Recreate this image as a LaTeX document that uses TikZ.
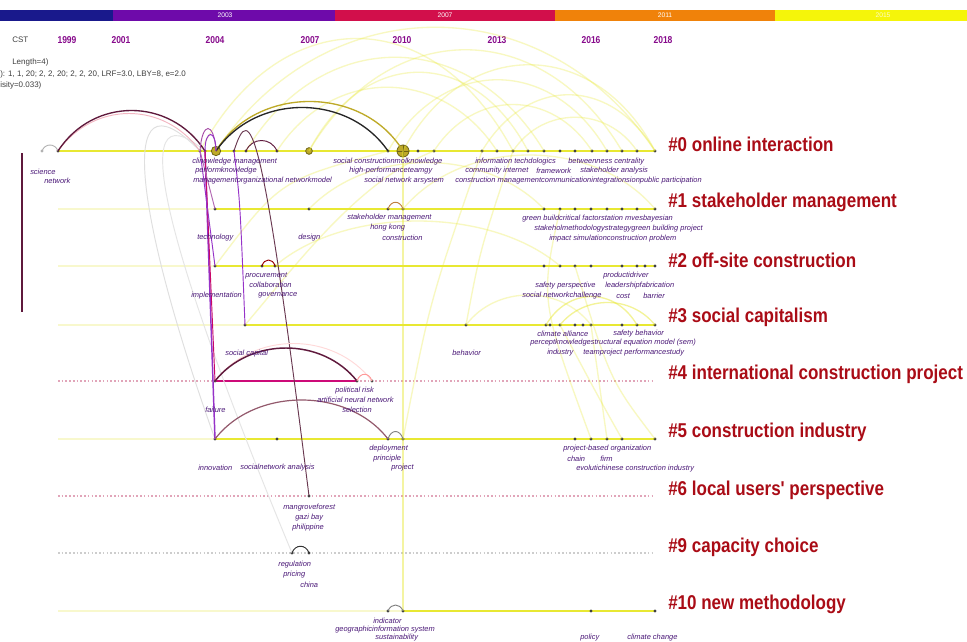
\documentclass[tikz,border=0pt]{standalone}
\usepackage{fontspec}
\setmainfont{Liberation Sans}
\newfontfamily\clfont[FakeStretch=0.85]{Liberation Sans}
\newfontfamily\yrfont[FakeStretch=0.85]{Liberation Sans}
\definecolor{ylw}{RGB}{232,232,50}
\definecolor{ylwf}{RGB}{248,248,205}
\definecolor{lblc}{RGB}{75,25,120}
\definecolor{clc}{RGB}{170,12,22}
\definecolor{yrc}{RGB}{135,10,140}
\definecolor{arcA}{RGB}{95,25,60}
\definecolor{mag}{RGB}{205,10,120}
\definecolor{vio}{RGB}{150,50,200}
\definecolor{dotp}{RGB}{225,165,185}
\definecolor{dotg}{RGB}{205,205,205}
\definecolor{barA}{RGB}{25,25,140}
\definecolor{barB}{RGB}{110,10,170}
\definecolor{barC}{RGB}{210,15,75}
\definecolor{barD}{RGB}{240,130,10}
\definecolor{barE}{RGB}{245,245,10}
\definecolor{olv}{RGB}{190,170,40}
\definecolor{olvd}{RGB}{110,100,20}
\newcommand\citearc[5][]{\draw[#1] (#2.center) .. controls +(#4,-#5) and +(-#4,-#5) .. (#3.center);}
\begin{document}
\begin{tikzpicture}[x=0.75pt,y=-0.75pt,
  tl/.style={line width=2.2pt, draw=ylw},
  tlf/.style={line width=2.2pt, draw=ylwf},
  dl/.style={line width=0.8pt, dash pattern=on 1.2pt off 1.6pt},
  nd/.style={circle, fill=black!75, inner sep=0pt, minimum size=2.5pt},
  bignd/.style={circle, fill=olv, draw=olvd, line width=0.6pt, inner sep=0pt},
  lb/.style={anchor=west, inner sep=0pt, text=lblc, font=\fontsize{5.6}{6}\selectfont\itshape},
  cl/.style={anchor=west, inner sep=0pt, text=clc, font=\clfont\bfseries\fontsize{15}{16}\selectfont},
  yr/.style={inner sep=0pt, text=yrc, font=\yrfont\bfseries\fontsize{7.5}{8}\selectfont},
  hd/.style={anchor=west, inner sep=0pt, text=black!75, font=\fontsize{6}{7}\selectfont},
  bt/.style={inner sep=0pt, text=white, font=\fontsize{5}{6}\selectfont},
  lk/.style={line width=0.7pt},
  ylk/.style={line width=1pt, draw=ylw, opacity=0.3},
]
\clip (0,0) rectangle (967,642);
\fill[white] (0,0) rectangle (967,642);

% ---- top year bar ----
\fill[barA] (0,10) rectangle (113,21);
\fill[barB] (113,10) rectangle (335,21);
\fill[barC] (335,10) rectangle (555,21);
\fill[barD] (555,10) rectangle (775,21);
\fill[barE] (775,10) rectangle (967,21);
\node[bt] (b03) at (225,15.5) {2003};
\node[bt] (b07) at (445,15.5) {2007};
\node[bt] (b11) at (665,15.5) {2011};
\node[bt, text=white!80!yellow] (b15) at (883,15.5) {2015};

% ---- year labels ----
\node[hd] (cst) at (12,40) {CST};
\node[yr] (y1999) at (67,40) {1999};
\node[yr] (y2001) at (121,40) {2001};
\node[yr] (y2004) at (215,40) {2004};
\node[yr] (y2007) at (310,40) {2007};
\node[yr] (y2010) at (402,40) {2010};
\node[yr] (y2013) at (497,40) {2013};
\node[yr] (y2016) at (591,40) {2016};
\node[yr] (y2018) at (663,40) {2018};
\node[hd] (h1) at (12,62) {Length=4)};
\node[hd] (h2) at (0,74) {): 1, 1, 20; 2, 2, 20; 2, 2, 20, LRF=3.0, LBY=8, e=2.0};
\node[hd] (h3) at (0,85) {isity=0.033)};

% left vertical line
\draw[arcA, line width=0.9pt] (22,153) -- (22,312);

% ---- timelines ----
\draw[tlf] (58,209) -- (215,209);
\draw[tlf] (58,266) -- (215,266);
\draw[tlf] (58,325) -- (245,325);
\draw[tlf] (58,439) -- (215,439);
\draw[tlf] (58,611) -- (403,611);
\draw[dl, draw=dotp] (58,381) -- (655,381);
\draw[dl, draw=dotp] (58,496) -- (655,496);
\draw[dl, draw=dotg] (58,553) -- (655,553);
\draw[tl] (58,151) -- (655,151);
\draw[tl] (215,209) -- (655,209);
\draw[tl] (215,266) -- (655,266);
\draw[tl] (245,325) -- (655,325);
\draw[tl] (215,439) -- (655,439);
\draw[tl] (403,611) -- (655,611);
\draw[mag, line width=1.6pt] (215,381) -- (357,381);

% ---- nodes ----
\foreach \x in {58,200,205,234,246,277,388,418,434,482,497,513,528,544,560,575,592,607,622,637,655}
  \node[nd] (r0n\x) at (\x,151) {};
\node[nd, fill=gray!60] (r0n42) at (42,151) {};
\foreach \x in {215,309,388,403,544,560,575,591,607,622,637,655}
  \node[nd] (r1n\x) at (\x,209) {};
\foreach \x in {215,262,275,544,560,575,591,622,637,645,655}
  \node[nd] (r2n\x) at (\x,266) {};
\foreach \x in {245,466,546,550,560,575,583,591,622,637,655}
  \node[nd] (r3n\x) at (\x,325) {};
\foreach \x in {215,357,372}
  \node[nd] (r4n\x) at (\x,381) {};
\foreach \x in {215,277,388,403,575,591,607,622,655}
  \node[nd] (r5n\x) at (\x,439) {};
\node[nd] (r6n309) at (309,496) {};
\foreach \x in {292,309}
  \node[nd] (r9n\x) at (\x,553) {};
\foreach \x in {388,403,591,655}
  \node[nd] (r10n\x) at (\x,611) {};
\node[bignd, minimum size=7pt] (r0n216) at (216,151) {};
\node[bignd, minimum size=5pt] (r0n309) at (309,151) {};
\node[bignd, minimum size=9pt] (r0n403) at (403,151) {};
\draw[olvd, line width=0.5pt] (r0n403.north) -- (r0n403.south) (r0n403.west) -- (r0n403.east);

% ---- yellow citation arcs (background) ----
\citearc[ylk]{r0n216}{r0n655}{110}{165}
\citearc[ylk]{r0n309}{r0n622}{80}{135}
\citearc[ylk]{r0n403}{r0n655}{60}{115}
\citearc[ylk]{r0n246}{r0n544}{75}{125}
\citearc[ylk]{r0n388}{r0n607}{55}{95}
\citearc[ylk]{r0n277}{r0n497}{55}{85}
\citearc[ylk]{r0n434}{r0n592}{40}{62}
\citearc[ylk]{r0n482}{r0n655}{45}{75}
\citearc[ylk]{r0n513}{r0n637}{30}{45}
\citearc[ylk]{r0n200}{r0n513}{80}{150}
\citearc[ylk]{r0n309}{r0n528}{55}{105}
\citearc[ylk]{r1n309}{r1n544}{60}{62}
\citearc[ylk]{r1n403}{r1n655}{60}{72}
\citearc[ylk]{r2n275}{r2n560}{70}{60}
\citearc[ylk, opacity=0.5]{r3n546}{r3n637}{22}{38}
\citearc[ylk, opacity=0.5]{r3n560}{r3n655}{24}{30}
\citearc[ylk]{r3n466}{r3n591}{30}{40}
\draw[ylk] (r3n245.center) .. controls (300,260) and (360,180) .. (r0n434.center);
\draw[ylk] (r2n215.center) .. controls (280,180) .. (r0n388.center);
\draw[ylk] (r5n403.center) .. controls (430,300) .. (r0n482.center);
\draw[ylk] (r3n466.center) .. controls (480,250) .. (r0n513.center);
\draw[ylk] (r3n560.center) .. controls (600,400) .. (r5n622.center);
\draw[ylk] (r2n575.center) .. controls (610,380) .. (r5n655.center);
\draw[ylk] (r3n591.center) -- (r5n607.center);
\draw[ylk] (r1n560.center) .. controls (540,300) .. (r5n591.center);
\draw[ylk, opacity=0.45] (r0n403.center) -- (r10n403.center);
\draw[gray!25, lk] (r0n200.center) .. controls (110,60) and (140,230) .. (r5n215.center);
\draw[gray!20, lk] (r0n205.center) .. controls (120,80) and (170,260) .. (r9n292.center);

% ---- dark citation links ----
\citearc[gray!60, lk]{r0n42}{r0n58}{3}{8}
\citearc[pink!70!purple, lk, opacity=0.6]{r0n58}{r0n200}{36}{50}
\citearc[arcA, line width=1pt]{r0n58}{r0n205}{35}{54}
\citearc[olv, line width=1pt]{r0n216}{r0n403}{40}{66}
\citearc[black!85, line width=1pt]{r0n216}{r0n388}{40}{58}
\citearc[violet!70, lk]{r0n200}{r0n216}{2}{30}
\citearc[vio, lk]{r0n205}{r0n216}{0}{22}
\citearc[arcA, lk]{r0n246}{r0n277}{6}{14}
\draw[vio, line width=1.1pt] (r0n205.center) -- (r5n215.center);
\draw[mag!70!purple, lk] (r0n205.center) -- (r4n215.center);
\draw[vio, lk] (r0n200.center) -- (r2n215.center);
\draw[violet!60, lk] (r0n200.center) -- (r1n215.center);
\draw[arcA!70!gray, lk] (r0n234.center) .. controls (250,100) and (262,120) .. (r6n309.center);
\draw[vio, lk] (r0n234.center) .. controls (240,200) .. (r3n245.center);
\citearc[pink!60, lk]{r4n215}{r4n372}{38}{50}
\citearc[arcA, line width=1.1pt]{r4n215}{r4n357}{35}{44}
\citearc[pink!80!red, lk]{r4n357}{r4n372}{3}{9}
\citearc[gray!70!purple, line width=0.9pt]{r5n215}{r5n388}{40}{52}
\citearc[gray, lk]{r5n388}{r5n403}{3}{10}
\citearc[red!60!black, lk]{r2n262}{r2n275}{2}{8}
\citearc[brown, lk]{r1n388}{r1n403}{3}{9}
\citearc[black!80, lk]{r9n292}{r9n309}{3}{9}
\citearc[gray, lk]{r10n388}{r10n403}{3}{8}

% ---- labels row 0 ----
\node[lb] (l0a) at (30,172) {science};
\node[lb] (l0b) at (44,181) {network};
\node[lb] (l0c) at (192,162) {clinowledge management};
\node[lb] (l0d) at (195,171) {performknowledge};
\node[lb] (l0e) at (193,181) {managementorganizational networkmodel};
\node[lb] (l0f) at (333,162) {social constructionmolknowledge};
\node[lb] (l0g) at (349,171) {high-performanceteamgy};
\node[lb] (l0h) at (364,181) {social network arsystem};
\node[lb] (l0i) at (475,162) {information techdologics};
\node[lb] (l0j) at (465,171) {community internet};
\node[lb] (l0k) at (536,171) {framework};
\node[lb] (l0l) at (455,181) {construction managementcommunicationintegrationsionpublic participation};
\node[lb] (l0m) at (568,162) {betweenness centrality};
\node[lb] (l0n) at (580,171) {stakeholder analysis};
% row 1
\node[lb] (l1a) at (197,238) {technology};
\node[lb] (l1b) at (298,238) {design};
\node[lb] (l1c) at (347,218) {stakeholder management};
\node[lb] (l1d) at (370,228) {hong kong};
\node[lb] (l1e) at (382,238) {construction};
\node[lb] (l1f) at (522,219) {green buildcritical factorstation mvesbayesian};
\node[lb] (l1g) at (534,229) {stakeholmethodologystrategygreen building project};
\node[lb] (l1h) at (549,239) {impact simulationconstruction problem};
% row 2
\node[lb] (l2a) at (245,276) {procurement};
\node[lb] (l2b) at (249,285) {collaboration};
\node[lb] (l2c) at (258,295) {governance};
\node[lb] (l2d) at (191,296) {implementation};
\node[lb] (l2e) at (535,286) {safety perspective};
\node[lb] (l2f) at (522,296) {social networkchallenge};
\node[lb] (l2g) at (603,276) {productidriver};
\node[lb] (l2h) at (605,286) {leadershipfabrication};
\node[lb] (l2i) at (616,296) {cost};
\node[lb] (l2j) at (643,296) {barrier};
% row 3
\node[lb] (l3a) at (452,353) {behavior};
\node[lb] (l3b) at (537,334) {climate alliance};
\node[lb] (l3c) at (530,343) {perceptknowledgestructural equation model (sem)};
\node[lb] (l3d) at (547,353) {industry};
\node[lb] (l3e) at (583,353) {teamproject performancestudy};
\node[lb] (l3f) at (613,334) {safety behavior};
% row 4
\node[lb] (l4a) at (225,354) {social capital};
\node[lb] (l4b) at (335,391) {political risk};
\node[lb] (l4c) at (317,400) {artificial neural network};
\node[lb] (l4d) at (342,410) {selection};
\node[lb] (l4e) at (205,410) {failure};
% row 5
\node[lb] (l5a) at (198,468) {innovation};
\node[lb] (l5b) at (240,468) {socialnetwork analysis};
\node[lb] (l5c) at (369,449) {deployment};
\node[lb] (l5d) at (373,459) {principle};
\node[lb] (l5e) at (391,468) {project};
\node[lb] (l5f) at (563,449) {project-based organization};
\node[lb] (l5g) at (567,459) {chain};
\node[lb] (l5h) at (600,459) {firm};
\node[lb] (l5i) at (576,469) {evolutichinese construction industry};
% row 6
\node[lb] (l6a) at (283,508) {mangroveforest};
\node[lb] (l6b) at (295,518) {gazi bay};
\node[lb] (l6c) at (292,528) {philippine};
% row 9
\node[lb] (l9a) at (278,565) {regulation};
\node[lb] (l9b) at (283,575) {pricing};
\node[lb] (l9c) at (300,585) {china};
% row 10
\node[lb] (l10a) at (373,621) {indicator};
\node[lb] (l10b) at (335,630) {geographicinformation system};
\node[lb] (l10c) at (375,637.5) {sustainability};
\node[lb] (l10d) at (580,637.5) {policy};
\node[lb] (l10e) at (627,637.5) {climate change};

% ---- cluster labels ----
\node[cl] (c0) at (668,144) {\#0 online interaction};
\node[cl] (c1) at (668,202) {\#1 stakeholder management};
\node[cl] (c2) at (668,260) {\#2 off-site construction};
\node[cl] (c3) at (668,317) {\#3 social capitalism};
\node[cl] (c4) at (668,374) {\#4 international construction project};
\node[cl] (c5) at (668,432) {\#5 construction industry};
\node[cl] (c6) at (668,490) {\#6 local users' perspective};
\node[cl] (c9) at (668,547) {\#9 capacity choice};
\node[cl] (c10) at (668,604) {\#10 new methodology};
\end{tikzpicture}
\end{document}
